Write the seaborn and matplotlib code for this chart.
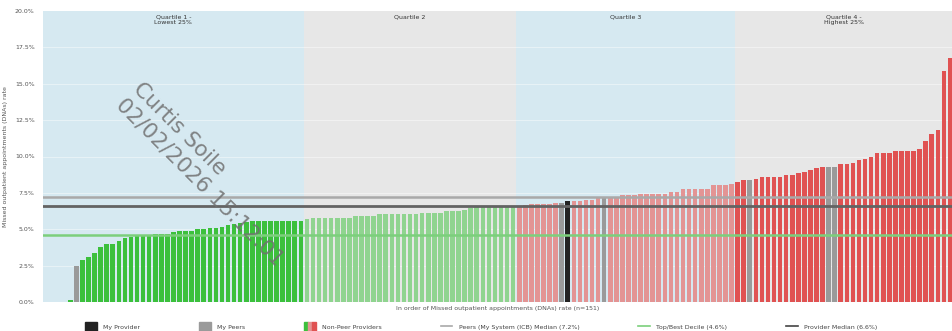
import pandas as pd
import matplotlib.pyplot as plt
import seaborn as sns
from matplotlib.patches import Patch
from matplotlib.lines import Line2D
from matplotlib.legend_handler import HandlerTuple

# DNA rates (%) per provider, sorted
q1_rates = [0, 0, 0, 0, 0.15, 2.47, 2.9, 3.1, 3.4, 3.75, 4.0, 4.0, 4.2, 4.4, 4.45,
            4.6, 4.6, 4.6, 4.65, 4.7, 4.7, 4.8, 4.9, 4.9, 4.9, 5.0, 5.0, 5.1, 5.1,
            5.15, 5.3, 5.35, 5.45, 5.5, 5.55, 5.55, 5.6, 5.6, 5.6, 5.6, 5.6, 5.6, 5.6]
q2_rates = [5.73, 5.75, 5.75, 5.8, 5.8, 5.8, 5.8, 5.8, 5.91, 5.91, 5.91, 5.91,
            6.03, 6.03, 6.03, 6.03, 6.03, 6.03, 6.03, 6.12, 6.12, 6.12, 6.12,
            6.25, 6.25, 6.25, 6.32, 6.46, 6.5, 6.55, 6.55, 6.55, 6.55, 6.55, 6.55]
q3_rates = [6.62, 6.66, 6.71, 6.71, 6.71, 6.76, 6.8, 6.8, 6.92, 6.92, 6.92, 7.01,
            7.03, 7.15, 7.15, 7.19, 7.19, 7.35, 7.35, 7.35, 7.45, 7.45, 7.45, 7.45,
            7.45, 7.56, 7.56, 7.74, 7.74, 7.8, 7.8, 7.8, 8.04, 8.04, 8.04, 8.1]
q4_rates = [8.27, 8.36, 8.36, 8.48, 8.59, 8.59, 8.59, 8.59, 8.75, 8.75, 8.87, 8.93,
            9.05, 9.21, 9.28, 9.28, 9.28, 9.46, 9.46, 9.58, 9.76, 9.85, 9.97, 10.26,
            10.26, 10.26, 10.36, 10.36, 10.36, 10.36, 10.49, 11.04, 11.57, 11.84,
            15.86, 16.75]

peer_slots = [5, 85, 92, 116, 129, 130]
provider_slot = 86

peers_median = 7.2
best_decile = 4.6
provider_median = 6.6

quartile_labels = ["Quartile 1 -\nLowest 25%", "Quartile 2", "Quartile 3", "Quartile 4 -\nHighest 25%"]

# build the frame
rates = q1_rates + q2_rates + q3_rates + q4_rates
groups = (["q1"] * len(q1_rates) + ["q2"] * len(q2_rates)
          + ["q3"] * len(q3_rates) + ["q4"] * len(q4_rates))
for i in peer_slots:
    groups[i] = "peer"
groups[provider_slot] = "provider"
df = pd.DataFrame({"pos": range(len(rates)), "rate": rates, "group": groups})

palette = {
    "q1": "#3cc03c",
    "q2": "#90d490",
    "q3": "#e39494",
    "q4": "#e05252",
    "peer": "#9a9a9a",
    "provider": "#222222",
}

fig = plt.figure(figsize=(9.53, 3.31), dpi=100)
ax = fig.add_axes([43 / 953, 1 - 302 / 331, 1 - 43 / 953, (302 - 11) / 331])

# quartile backgrounds
bounds = [0, len(q1_rates), len(q1_rates) + len(q2_rates),
          len(q1_rates) + len(q2_rates) + len(q3_rates), len(rates)]
bg_cols = ["#d6e9f1", "#e7e7e7", "#d6e9f1", "#e7e7e7"]
for k in range(4):
    ax.axvspan(bounds[k] - 0.5, bounds[k + 1] - 0.5, color=bg_cols[k], zorder=0, lw=0)
    ax.text((bounds[k] + bounds[k + 1] - 1) / 2, 19.75, quartile_labels[k],
            ha="center", va="top", fontsize=4.5, color="#333333", linespacing=1.1)

for t in [2.5, 5, 7.5, 10, 12.5, 15, 17.5]:
    ax.axhline(t, color="white", lw=0.6, alpha=0.5, zorder=0.5)

sns.barplot(data=df, x="pos", y="rate", hue="group", palette=palette, dodge=False,
            saturation=1, width=0.76, errorbar=None, legend=False, ax=ax, zorder=2,
            linewidth=0)

ax.axhline(peers_median, color="#a9a9a9", lw=1.8, zorder=3)
ax.axhline(provider_median, color="#636363", lw=2.0, zorder=3)
ax.axhline(best_decile, color="#7ccf7c", lw=1.8, zorder=3)

ax.set_xlim(-0.5, len(rates) - 0.5)
ax.set_ylim(0, 20)
ax.set_yticks([0, 2.5, 5, 7.5, 10, 12.5, 15, 17.5, 20])
ax.set_yticklabels([f"{v:.1f}%" for v in ax.get_yticks()])
ax.set_xticks([])
ax.tick_params(axis="y", length=0, labelsize=4.5, labelcolor="#555555", pad=6)
for s in ax.spines.values():
    s.set_visible(False)
ax.set_xlabel("In order of Missed outpatient appointments (DNAs) rate (n=151)",
              fontsize=4.5, color="#555555", labelpad=3)
ax.set_ylabel("Missed outpatient appointments (DNAs) rate", fontsize=4.5,
              color="#555555", labelpad=5)

# legend
handles = [
    Patch(color=palette["provider"]),
    Patch(color=palette["peer"]),
    (Patch(color=palette["q1"]), Patch(color=palette["q3"]), Patch(color=palette["q4"])),
    Line2D([], [], color="#a9a9a9", lw=1.2),
    Line2D([], [], color="#7ccf7c", lw=1.2),
    Line2D([], [], color="#444444", lw=1.2),
]
labels = ["My Provider", "My Peers", "Non-Peer Providers",
          f"Peers (My System (ICB) Median ({peers_median}%)",
          f"Top/Best Decile ({best_decile}%)", f"Provider Median ({provider_median}%)"]
fig.legend(handles, labels, ncol=6, loc="center", bbox_to_anchor=(0.505, 0.012),
           frameon=False, fontsize=4.5, handlelength=1.9, handleheight=2.0,
           handletextpad=1.0, columnspacing=9.4, labelcolor="#444444",
           handler_map={tuple: HandlerTuple(ndivide=None, pad=0)})

# watermark
fig.text(208 / 953, 1 - 174 / 331, "Curtis Soile\n02/02/2026 15:12:01",
         rotation=-45, rotation_mode="anchor", ha="center", va="center",
         multialignment="left", fontsize=15.5, color="#707070", alpha=0.85, zorder=10)

fig.savefig("out.png", dpi=100)
